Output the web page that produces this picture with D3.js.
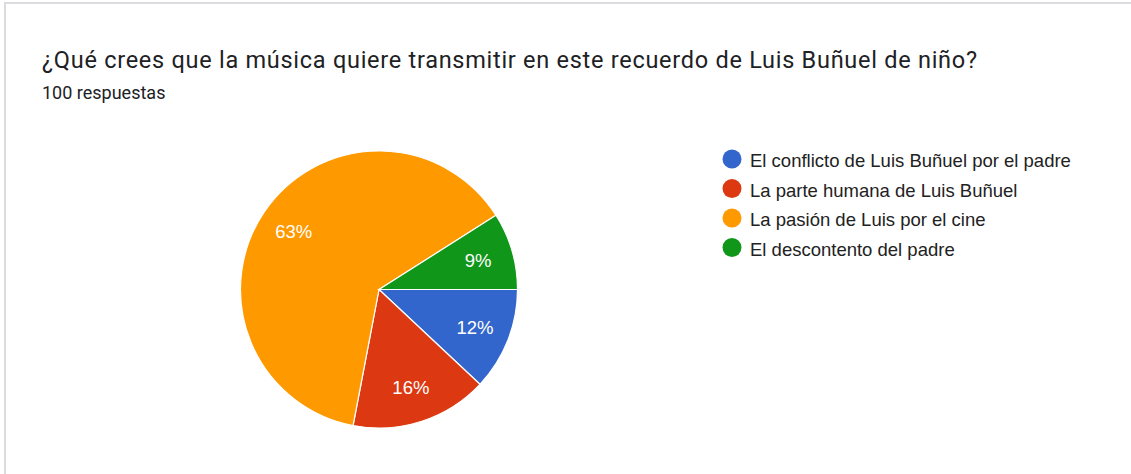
<!DOCTYPE html>
<html lang="es">
<head>
<meta charset="utf-8">
<title>¿Qué crees que la música quiere transmitir?</title>
<script src="https://cdn.jsdelivr.net/npm/d3@7"></script>
<style>
  html, body { margin: 0; padding: 0; background: #fff; }
  svg { display: block; }
</style>
</head>
<body>
<div id="chart"></div>
<script>
// data
var title = "¿Qué crees que la música quiere transmitir en este recuerdo de Luis Buñuel de niño?";
var subtitle = "100 respuestas";
var categories = [
  "El conflicto de Luis Buñuel por el padre",
  "La parte humana de Luis Buñuel",
  "La pasión de Luis por el cine",
  "El descontento del padre"
];
var values = [12, 16, 63, 9];
var colors = ["#3366cc", "#dc3912", "#ff9900", "#109618"];

var w = 1131, h = 474;
var cx = 379, cy = 289.5, R = 138.5;

var svg = d3.select("#chart").append("svg")
  .attr("width", w)
  .attr("height", h);

// card border (only top and left are visible)
svg.append("rect")
  .attr("x", 5).attr("y", 3)
  .attr("width", w + 20).attr("height", h + 20)
  .attr("fill", "#fff")
  .attr("stroke", "#dadce0")
  .attr("stroke-width", 2);

svg.append("text")
  .attr("x", 42).attr("y", 68)
  .attr("font-family", "Roboto, sans-serif")
  .attr("font-size", "23.5px")
  .attr("textLength", 935)
  .attr("lengthAdjust", "spacing")
  .attr("fill", "#202124")
  .text(title);

svg.append("text")
  .attr("x", 42).attr("y", 99)
  .attr("font-family", "Roboto, sans-serif")
  .attr("font-size", "18px")
  .attr("fill", "#202124")
  .text(subtitle);

// pie, starting at 3 o'clock, clockwise
var total = d3.sum(values);
var pie = d3.pie()
  .sort(null)
  .startAngle(Math.PI / 2)
  .endAngle(Math.PI / 2 + 2 * Math.PI)
  .value(function(d) { return d; });

var arc = d3.arc().innerRadius(0).outerRadius(R);
var labelArc = d3.arc().innerRadius(R * 0.745).outerRadius(R * 0.745);

var g = svg.append("g").attr("transform", "translate(" + cx + "," + cy + ")");
var arcs = pie(values);

g.selectAll("path")
  .data(arcs)
  .enter()
  .append("path")
  .attr("d", arc)
  .attr("fill", function(d, i) { return colors[i]; })
  .attr("stroke", "#fff")
  .attr("stroke-width", 1.2);

g.selectAll("text")
  .data(arcs)
  .enter()
  .append("text")
  .attr("transform", function(d) { return "translate(" + labelArc.centroid(d) + ")"; })
  .attr("dy", "0.36em")
  .attr("text-anchor", "middle")
  .attr("font-family", "'Liberation Sans', Arial, sans-serif")
  .attr("font-size", "18.5px")
  .attr("fill", "#fff")
  .text(function(d) { return Math.round(d.value / total * 100) + "%"; });

// legend
var legend = svg.append("g").attr("transform", "translate(732,159)");
var rows = legend.selectAll("g")
  .data(categories)
  .enter()
  .append("g")
  .attr("transform", function(d, i) { return "translate(0," + (i * 29.5) + ")"; });

rows.append("circle")
  .attr("r", 9.5)
  .attr("fill", function(d, i) { return colors[i]; });

rows.append("text")
  .attr("x", 18)
  .attr("y", 8)
  .attr("font-family", "'Liberation Sans', Arial, sans-serif")
  .attr("font-size", "18.5px")
  .attr("fill", "#222")
  .text(function(d) { return d; });
</script>
</body>
</html>
